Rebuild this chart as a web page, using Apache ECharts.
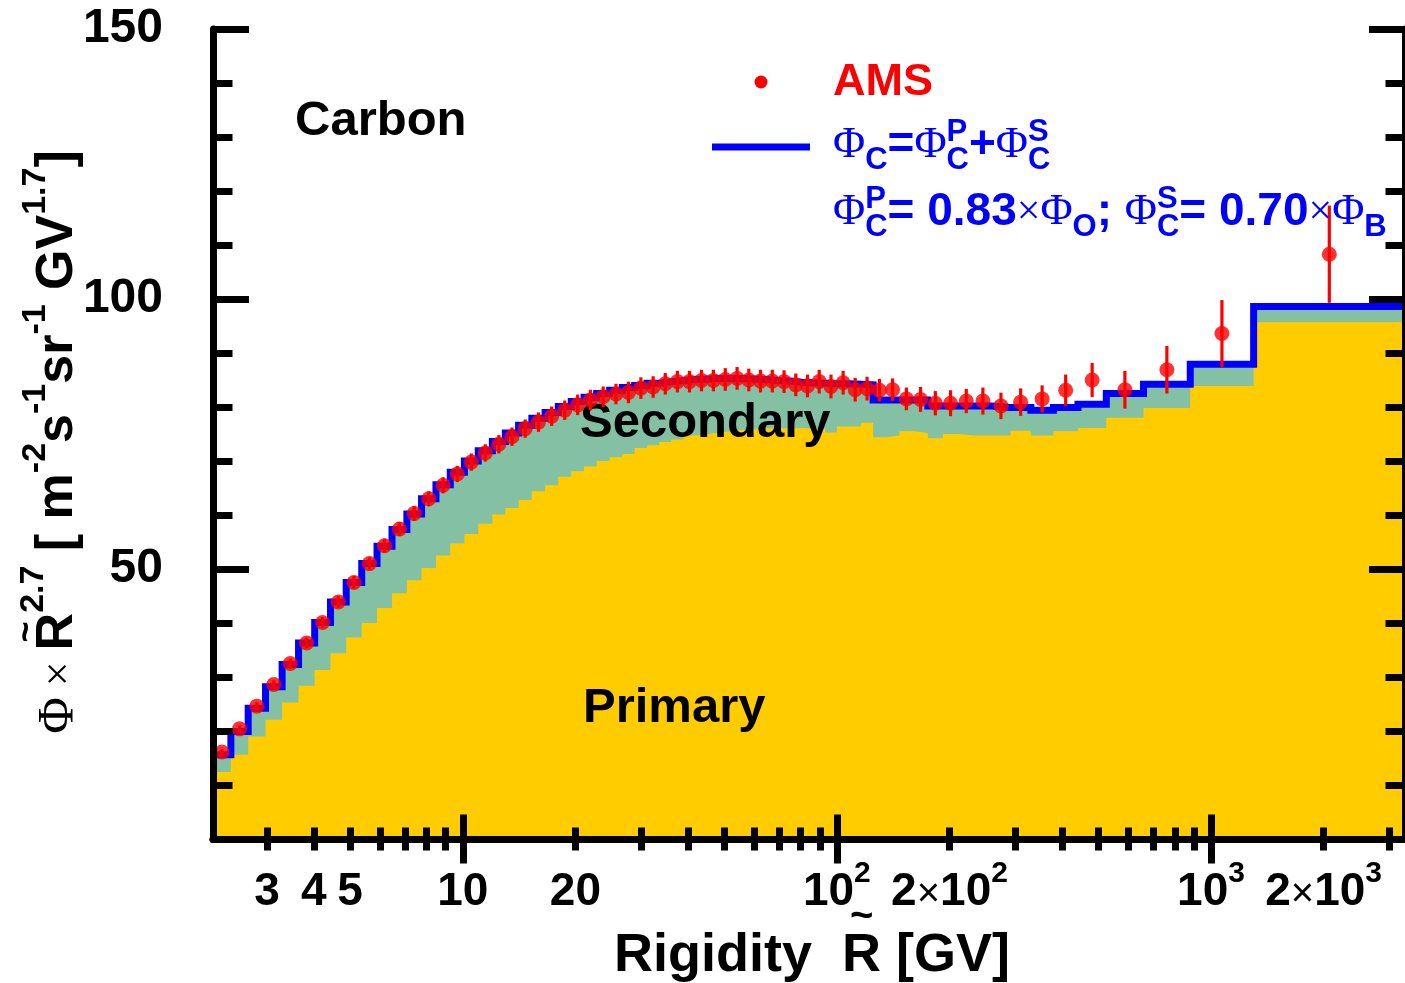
<!DOCTYPE html>
<html><head><meta charset="utf-8">
<script src="https://cdn.jsdelivr.net/npm/echarts@6/dist/echarts.min.js"></script>
<style>html,body{margin:0;padding:0;background:#fff}#c{width:1405px;height:983px}</style>
</head><body><div id="c"></div>
<script>
// ---- data ----
const binEdges = [2.15, 2.40, 2.67, 2.97, 3.29, 3.64, 4.02, 4.43, 4.88, 5.37, 5.90, 6.47, 7.09, 7.76, 8.48, 9.26, 10.1, 11.0, 12.0, 13.0, 14.1, 15.3, 16.6, 18.0, 19.5, 21.1, 22.8, 24.7, 26.7, 28.8, 31.1, 33.5, 36.1, 38.9, 41.9, 45.1, 48.5, 52.2, 56.1, 60.3, 64.8, 69.7, 74.9, 80.5, 86.5, 93.0, 100, 108, 116, 125, 135, 147, 160, 175, 192, 211, 233, 259, 291, 330, 379, 441, 525, 660, 880, 1300, 3300];
const amsFlux = [16.1, 20.4, 24.6, 28.6, 32.5, 36.3, 40.1, 43.9, 47.5, 51.0, 54.3, 57.4, 60.3, 63.0, 65.5, 67.6, 69.8, 71.5, 73.1, 74.5, 76.0, 77.2, 78.3, 79.4, 80.4, 81.3, 81.9, 82.4, 82.7, 83.5, 83.7, 84.3, 84.7, 84.7, 84.9, 84.9, 85.1, 85.3, 85.0, 84.8, 84.8, 84.7, 84.1, 83.9, 84.7, 83.8, 84.5, 83.2, 83.4, 83.1, 83.2, 81.5, 81.4, 80.7, 80.7, 81.1, 81.1, 80.2, 80.9, 81.5, 83.1, 85.0, 83.2, 86.9, 93.6, 108.3];
const amsErr = [0.5, 0.6, 0.7, 0.8, 0.9, 1.0, 1.0, 1.1, 1.2, 1.2, 1.3, 1.3, 1.4, 1.4, 1.5, 1.5, 1.6, 1.6, 1.7, 1.7, 1.7, 1.8, 1.8, 1.8, 1.9, 1.9, 1.9, 1.9, 2.0, 2.0, 2.0, 2.0, 2.0, 2.0, 2.0, 2.0, 2.1, 2.1, 2.1, 2.1, 2.1, 2.1, 2.1, 2.1, 2.2, 2.2, 2.2, 2.2, 2.2, 2.1, 2.1, 2.1, 2.3, 2.25, 2.4, 2.25, 2.5, 2.45, 2.55, 2.5, 2.9, 3.15, 3.5, 4.4, 6.2, 9.0];
const modelTotal = [15.6, 19.9, 24.2, 28.2, 32.3, 36.3, 40.1, 43.9, 47.5, 51.0, 54.2, 57.3, 60.2, 63.0, 65.6, 67.9, 70.0, 71.9, 73.6, 75.2, 76.6, 77.9, 79.0, 80.1, 81.0, 81.8, 82.5, 83.1, 83.6, 84.0, 84.4, 84.7, 84.9, 85.1, 85.2, 85.3, 85.3, 85.3, 85.2, 85.1, 84.9, 84.8, 84.6, 84.5, 84.4, 84.3, 84.3, 84.2, 84.1, 81.3, 81.3, 81.3, 81.3, 80.2, 80.2, 80.2, 80.2, 79.9, 79.9, 79.4, 79.9, 80.5, 82.5, 84.2, 87.9, 98.6];
const modelPrimary = [12.4, 15.6, 19.0, 22.1, 25.3, 28.4, 31.3, 34.4, 37.3, 40.0, 42.8, 45.5, 47.9, 50.2, 52.5, 54.7, 56.5, 58.4, 60.1, 61.3, 62.8, 64.4, 65.5, 67.1, 68.1, 69.0, 70.0, 70.7, 71.3, 72.4, 72.9, 73.5, 74.0, 74.7, 75.0, 75.3, 75.5, 75.8, 75.9, 76.0, 76.1, 76.0, 76.1, 76.0, 76.0, 75.3, 76.4, 76.4, 77.1, 74.4, 74.7, 75.5, 75.2, 74.2, 75.0, 74.7, 74.7, 74.7, 75.6, 74.7, 75.5, 76.1, 78.0, 79.8, 83.9, 95.7];
const xMajorTicks = [10, 100, 1000];
const xMinorTicks = [3, 4, 5, 6, 7, 8, 9, 20, 30, 40, 50, 60, 70, 80, 90, 200, 300, 400, 500, 600, 700, 800, 900, 2000, 3000];
const xLabelValues = [3, 4, 5, 10, 20, 100, 200, 1000, 2000];
const xLabelTexts = ['3', '4', '5', '10', '20', '10^2', '2×10^2', '10^3', '2×10^3'];
const yMin = 0, yMax = 150, yMajorStep = 50, yMinorStep = 10;

// ---- helpers ----
const SANS = '"Liberation Sans", Arial, Helvetica, sans-serif';
const SERIF = '"Liberation Serif", "DejaVu Serif", serif';
const mctx = document.createElement('canvas').getContext('2d');
function layout(tokens, color, z) {
  let cx = 0, prevStart = 0; const out = [];
  tokens.forEach(tk => {
    const fam = tk.f === 'r' ? SERIF : SANS, wt = tk.w || 'bold';
    mctx.font = wt + ' ' + tk.s + 'px ' + fam;
    const w = mctx.measureText(tk.t).width;
    let x;
    if (tk.stack) { x = prevStart + (tk.dx || 0); } else { x = cx + (tk.dx || 0); prevStart = x; }
    out.push({type: 'text', x: x, y: (tk.dy || 0) - 0.3465 * tk.s, z: z,
      style: {text: tk.t, fontSize: tk.s, fontFamily: fam, fontWeight: wt, fill: tk.c || color,
        align: 'left', verticalAlign: 'middle', textAlign: 'left', textVerticalAlign: 'middle'}});
    cx = Math.max(cx, x + w);
  });
  return {children: out, width: cx};
}
function placed(tokens, color, x, baseline, z, anchor) {
  const L = layout(tokens, color, z);
  const x0 = anchor === 'center' ? x - L.width / 2 : x;
  return {type: 'group', x: x0, y: baseline, children: L.children};
}
function toRich(s) {
  const parts = s.split('^');
  let r = parts[0].split('×').map(p => '{b|' + p + '}').join('{x|×}');
  if (parts[1]) r += '{s|' + parts[1] + '}';
  return r;
}

const nb = modelTotal.length;
function stepData(vals) { const d = vals.map((v, i) => [binEdges[i], v]); d.push([binEdges[nb], vals[nb - 1]]); return d; }
const centers = binEdges.slice(0, -1).map((e, i) => Math.sqrt(e * binEdges[i + 1]));
const points = amsFlux.map((v, i) => [centers[i], v, amsErr[i]]);

const BLK = '#000';
const tickStyle = {color: BLK, width: 7};
const xBase = {type: 'log', logBase: 10, min: binEdges[0], max: binEdges[nb], splitLine: {show: false}, z: 30, minorTick: {show: false}};
const yBase = {type: 'value', min: yMin, max: yMax, splitLine: {show: false}, z: 30};

const yTitle = layout([
  {t: 'Φ', s: 50, w: 'normal', f: 'r'}, {t: ' × ', s: 44, w: 'normal', f: 'r'},
  {t: 'R', s: 52}, {t: '~', s: 36, stack: true, dx: 8, dy: -36},
  {t: '2.7', s: 34, dy: -31},
  {t: ' [ m', s: 52}, {t: '-2', s: 34, dy: -29}, {t: 's', s: 52}, {t: '-1', s: 34, dy: -29},
  {t: 'sr', s: 52}, {t: '-1', s: 34, dy: -29}, {t: ' GV', s: 52}, {t: '1.7', s: 34, dy: -29}, {t: ']', s: 52}
], BLK, 40);

const PHI = {t: 'Φ', s: 44, w: 'normal', f: 'r'};
const graphics = [
  {type: 'group', x: 76, y: 442 + yTitle.width / 2, rotation: Math.PI / 2, children: yTitle.children},
  placed([{t: 'Rigidity  ', s: 54}, {t: 'R', s: 54}, {t: '~', s: 40, stack: true, dx: 8, dy: -44}, {t: ' [GV]', s: 54}], BLK, 812, 975, 40, 'center'),
  placed([{t: 'Carbon', s: 49}], BLK, 295, 138, 40),
  placed([{t: 'Secondary', s: 49}], BLK, 580, 440, 15),
  placed([{t: 'Primary', s: 49}], BLK, 583, 725, 15),
  placed([{t: 'AMS', s: 45}], '#ff0000', 833, 98, 40),
  {type: 'circle', shape: {cx: 761, cy: 82, r: 6.5}, style: {fill: '#ff0000'}, z: 40},
  {type: 'line', shape: {x1: 712, y1: 147, x2: 810, y2: 147}, style: {stroke: '#0000ff', lineWidth: 7}, z: 40},
  placed([
    PHI, {t: 'C', s: 31, dy: 10},
    {t: '=', s: 46},
    PHI, {t: 'C', s: 31, dy: 10}, {t: 'P', s: 31, stack: true, dy: -18},
    {t: '+', s: 46},
    PHI, {t: 'C', s: 31, dy: 10}, {t: 'S', s: 31, stack: true, dy: -18}
  ], '#0000ff', 833, 161, 40),
  placed([
    PHI, {t: 'C', s: 31, dy: 10}, {t: 'P', s: 31, stack: true, dy: -18},
    {t: '= 0.83', s: 46}, {t: '×', s: 42, w: 'normal', f: 'r'},
    PHI, {t: 'O', s: 31, dy: 10}, {t: '; ', s: 46},
    PHI, {t: 'C', s: 31, dy: 10}, {t: 'S', s: 31, stack: true, dy: -18},
    {t: '= 0.70', s: 46}, {t: '×', s: 42, w: 'normal', f: 'r'},
    PHI, {t: 'B', s: 31, dy: 10}
  ], '#0000ff', 833, 228, 40)
];

const chart = echarts.init(document.getElementById('c'), null, {renderer: 'canvas'});
chart.setOption({
  animation: false,
  backgroundColor: '#ffffff',
  grid: {left: 213, top: 29, width: 1196, height: 810, containLabel: false},
  xAxis: [
    Object.assign({}, xBase, {position: 'bottom', axisLine: {show: true, lineStyle: {color: BLK, width: 7}},
      axisTick: {show: true, inside: true, length: 24.5, customValues: xMajorTicks, lineStyle: tickStyle},
      axisLabel: {show: true, customValues: xLabelValues, margin: 20,
        formatter: function (v) {
          let best = 0;
          for (let i = 1; i < xLabelValues.length; i++) {
            if (Math.abs(Math.log(xLabelValues[i] / v)) < Math.abs(Math.log(xLabelValues[best] / v))) best = i;
          }
          return toRich(xLabelTexts[best]);
        },
        rich: {
          b: {fontSize: 46, fontWeight: 'bold', fontFamily: SANS, color: BLK, lineHeight: 56, verticalAlign: 'bottom'},
          x: {fontSize: 40, fontWeight: 'normal', fontFamily: SANS, color: BLK, lineHeight: 56, verticalAlign: 'bottom'},
          s: {fontSize: 30, fontWeight: 'bold', fontFamily: SANS, color: BLK, lineHeight: 30, verticalAlign: 'top'}
        }}}),
    Object.assign({}, xBase, {position: 'bottom', axisLine: {show: false},
      axisTick: {show: true, inside: true, length: 11.5, customValues: xMinorTicks, lineStyle: tickStyle}, axisLabel: {show: false}}),
    Object.assign({}, xBase, {position: 'top', axisLine: {show: true, lineStyle: {color: BLK, width: 7}},
      axisTick: {show: true, inside: true, length: 24.5, customValues: xMajorTicks, lineStyle: tickStyle}, axisLabel: {show: false}}),
    Object.assign({}, xBase, {position: 'top', axisLine: {show: false},
      axisTick: {show: true, inside: true, length: 11.5, customValues: xMinorTicks, lineStyle: tickStyle}, axisLabel: {show: false}})
  ],
  yAxis: [
    Object.assign({}, yBase, {position: 'left', interval: yMajorStep, axisLine: {show: true, lineStyle: {color: BLK, width: 7}},
      axisTick: {show: true, inside: true, length: 36, lineStyle: tickStyle},
      axisLabel: {show: true, margin: 50, fontSize: 48, fontWeight: 'bold', fontFamily: SANS, color: BLK,
        formatter: v => (v === 0 ? '' : String(v))}}),
    Object.assign({}, yBase, {position: 'left', interval: yMinorStep, axisLine: {show: false},
      axisTick: {show: true, inside: true, length: 19.5, lineStyle: tickStyle}, axisLabel: {show: false}}),
    Object.assign({}, yBase, {position: 'right', interval: yMajorStep, axisLine: {show: true, lineStyle: {color: BLK, width: 7}},
      axisTick: {show: true, inside: true, length: 36, lineStyle: tickStyle}, axisLabel: {show: false}}),
    Object.assign({}, yBase, {position: 'right', interval: yMinorStep, axisLine: {show: false},
      axisTick: {show: true, inside: true, length: 19.5, lineStyle: tickStyle}, axisLabel: {show: false}})
  ],
  series: [
    {type: 'line', name: 'total area', data: stepData(modelTotal), step: 'end', showSymbol: false, symbol: 'none',
      lineStyle: {width: 0, opacity: 0}, areaStyle: {color: '#84c1a4', opacity: 1, origin: 'start'}, z: 2, silent: true},
    {type: 'line', name: 'primary', data: stepData(modelPrimary), step: 'end', showSymbol: false, symbol: 'none',
      lineStyle: {width: 0, opacity: 0}, areaStyle: {color: '#ffcc00', opacity: 1, origin: 'start'}, z: 3, silent: true},
    {type: 'line', name: 'total', data: stepData(modelTotal), step: 'end', showSymbol: false, symbol: 'none',
      lineStyle: {color: '#0000ff', width: 7, join: 'miter', cap: 'butt'}, z: 4, silent: true},
    {type: 'custom', name: 'err', data: points, encode: {x: 0, y: 1}, z: 19, silent: true,
      renderItem: function (params, api) {
        const x = api.value(0), y = api.value(1), e = api.value(2);
        const p1 = api.coord([x, y - e]), p2 = api.coord([x, y + e]);
        return {type: 'line', shape: {x1: p1[0], y1: p1[1], x2: p2[0], y2: p2[1]}, style: {stroke: '#ff0000', lineWidth: 3.2}};
      }},
    {type: 'scatter', name: 'AMS', data: points.map(p => [p[0], p[1]]), symbol: 'circle', symbolSize: 15,
      itemStyle: {color: '#ff0000'}, z: 20, silent: true}
  ],
  graphic: graphics
});
</script>
</body></html>
